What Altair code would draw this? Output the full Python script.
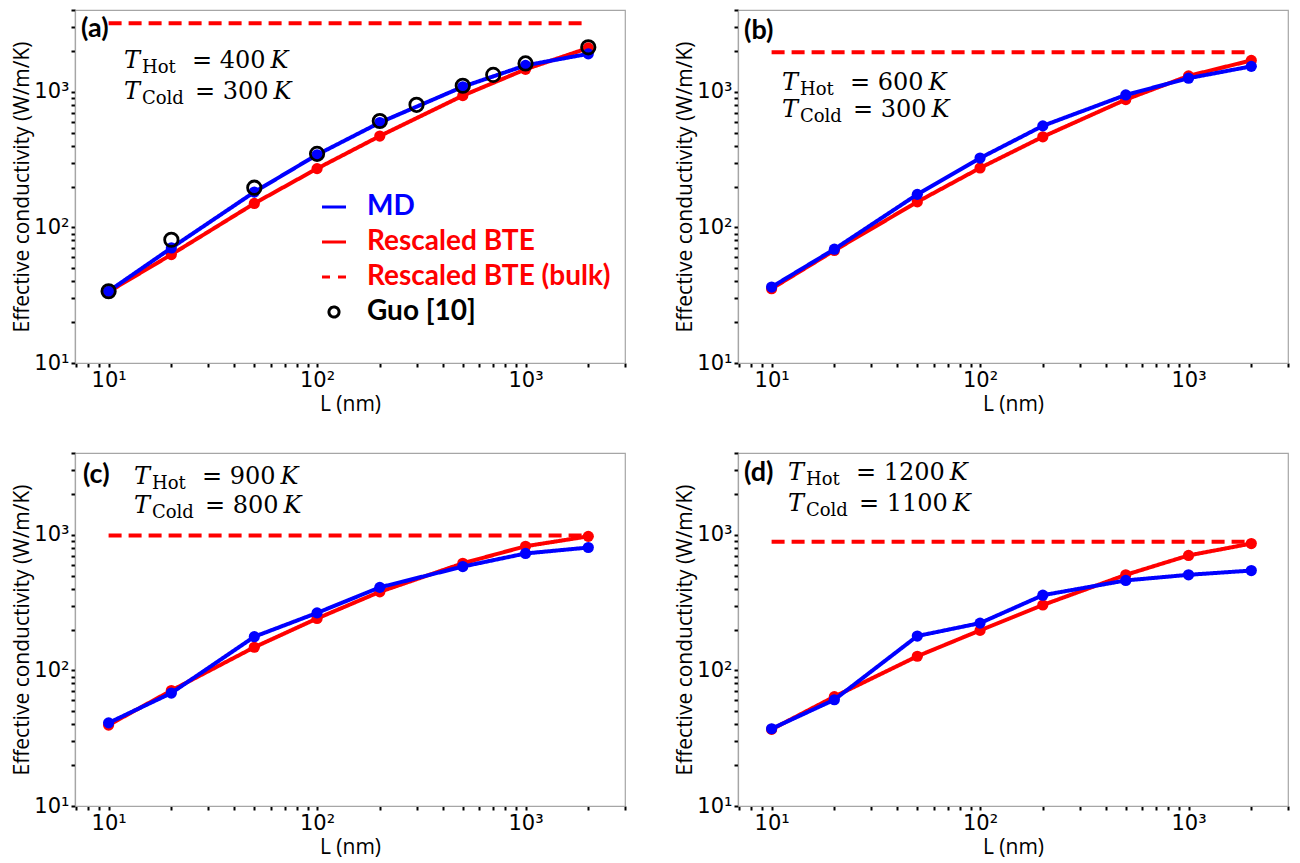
import altair as alt
import pandas as pd

# ---------------- data ----------------
L = [10, 20, 50, 100, 200, 500, 1000, 2000]

md_a = [33.8, 70.5, 182, 343, 592, 1087, 1563, 1900]
bte_a = [33.5, 63, 150, 271, 471, 935, 1462, 2100]
bulk_a = 3200
guo_L = [10, 20, 50, 100, 200, 300, 500, 700, 1000, 2000]
guo_k = [33.8, 81, 196, 348, 608, 800, 1106, 1330, 1616, 2124]

md_b = [36.3, 69, 175, 324, 560, 946, 1257, 1537]
bte_b = [35.3, 67.5, 154, 274, 465, 875, 1307, 1700]
bulk_b = 1950

md_c = [41, 68, 177, 265, 409, 582, 727, 804]
bte_c = [39.5, 71, 148, 241, 379, 615, 822, 972]
bulk_c = 985

md_d = [37.1, 60.7, 179, 223, 358, 460, 506, 544]
bte_d = [36.7, 64, 127, 197, 303, 506, 703, 860]
bulk_d = 885

bulk_span = [10, 2000]

panel_labels = ["(a)", "(b)", "(c)", "(d)"]
t_hot = ["400", "600", "900", "1200"]
t_cold = ["300", "300", "800", "1100"]

series_names = ["MD", "Rescaled BTE", "Rescaled BTE (bulk)", "Guo [10]"]
series_colors = ["#0000ff", "#ff0000", "#ff0000", "#000000"]
series_dash = [[1, 0], [1, 0], [8, 8], [1, 0]]

x_ticks = [7, 8, 9, 10, 20, 30, 40, 50, 60, 70, 80, 90, 100, 200, 300, 400, 500,
           600, 700, 800, 900, 1000, 2000, 3000]
y_ticks = [10, 20, 30, 40, 50, 60, 70, 80, 90, 100, 200, 300, 400, 500, 600, 700,
           800, 900, 1000, 2000, 3000, 4000]

# ---------------- layout / style ----------------
W, H = 550, 353
XDOM = [6.9, 3000]
YDOM = [10, 4000]
BLUE, RED = "#0000ff", "#ff0000"
LW = 4

MAJOR = "datum.value == 10 || datum.value == 100 || datum.value == 1000"
LABEL_EXPR = ("datum.value == 10 ? '10\u00b9' : datum.value == 100 ? '10\u00b2' : "
              "datum.value == 1000 ? '10\u00b3' : ''")
LABEL_SIZE = {"condition": {"test": MAJOR, "value": 21}, "value": 0}

x_axis = alt.Axis(values=x_ticks, labelExpr=LABEL_EXPR, labelFontSize=LABEL_SIZE,
                  title="L (nm)", labelOverlap=False, labelFlush=False,
                  labelPadding=2, titlePadding=3)
y_axis = alt.Axis(values=y_ticks, labelExpr=LABEL_EXPR, labelFontSize=LABEL_SIZE,
                  title="Effective conductivity (W/m/K)", labelOverlap=False,
                  labelFlush=False, labelPadding=2, titlePadding=1)


def X(field="L"):
    return alt.X(f"{field}:Q", scale=alt.Scale(type="log", domain=XDOM, nice=False), axis=x_axis)


def Y(field="k"):
    return alt.Y(f"{field}:Q", scale=alt.Scale(type="log", domain=YDOM, nice=False), axis=y_axis)


legend_def = alt.Legend(
    title=None, orient="none", legendX=245, legendY=183, direction="vertical",
    symbolType=alt.ExprRef(
        "datum.value === 'Guo [10]' ? "
        "'M 0.42 0 A 0.42 0.42 0 1 1 -0.42 0 A 0.42 0.42 0 1 1 0.42 0 Z' : 'stroke'"),
    symbolSize=576, symbolStrokeWidth=3, symbolFillColor="transparent",
    labelColor=alt.ExprRef(
        "datum.value === 'MD' ? '#0000ff' : datum.value === 'Guo [10]' ? '#000000' : '#ff0000'"),
    labelFont="Lato", labelFontSize=28, labelFontWeight="bold", labelOffset=19,
    rowPadding=7, padding=0, labelLimit=400,
)

one_row = pd.DataFrame({"k": [0]})


def txt(text, x, y, size, font, style="normal", weight="normal", color="black"):
    return alt.Chart(one_row).mark_text(
        text=text, align="left", baseline="alphabetic", font=font, fontSize=size,
        fontStyle=style, fontWeight=weight, color=color,
    ).encode(x=alt.value(x), y=alt.value(y))


# annotation anchors (relative to plot area): label pos, T pos, line gap
ann = [
    dict(lab=(6, 27), T=(49, 58), gap=31),
    dict(lab=(6, 29), T=(44, 80), gap=27),
    dict(lab=(8, 30), T=(59, 31), gap=29),
    dict(lab=(6, 28), T=(50, 27), gap=31),
]


def t_line(x0, y0, sub, val, eq_off):
    fs = 24
    eq_x = x0 + eq_off
    k_x = eq_x + (0.838 + 0.318 + 0.636 * len(val)) * fs + 5
    return [
        txt("T", x0, y0, fs, "DejaVu Serif", style="italic"),
        txt(sub, x0 + 18, y0 + 5, 18, "DejaVu Serif"),
        txt("= " + val, eq_x, y0, fs, "DejaVu Serif"),
        txt("K", k_x, y0, fs, "DejaVu Serif", style="italic"),
    ]


def panel(i, md, bte, bulk, with_legend=False, guo=None):
    leg = legend_def if with_legend else None
    color = alt.Color("series:N", scale=alt.Scale(domain=series_names, range=series_colors), legend=leg)
    dash = alt.StrokeDash("series:N", scale=alt.Scale(domain=series_names, range=series_dash), legend=leg)

    df_md = pd.DataFrame({"L": L, "k": md, "series": "MD"})
    df_bte = pd.DataFrame({"L": L, "k": bte, "series": "Rescaled BTE"})
    df_bulk = pd.DataFrame({"L": bulk_span, "k": [bulk, bulk]})

    layers = [
        alt.Chart(df_bulk).mark_line(color=RED, strokeWidth=LW, strokeDash=[13, 7]).encode(x=X(), y=Y()),
        alt.Chart(df_bte).mark_line(strokeWidth=LW).encode(x=X(), y=Y(), color=color, strokeDash=dash),
        alt.Chart(df_bte).mark_circle(color=RED, size=125, opacity=1).encode(x=X(), y=Y()),
        alt.Chart(df_md).mark_line(strokeWidth=LW).encode(x=X(), y=Y(), color=color, strokeDash=dash),
        alt.Chart(df_md).mark_circle(color=BLUE, size=125, opacity=1).encode(x=X(), y=Y()),
    ]
    if guo is not None:
        df_guo = pd.DataFrame({"L": guo[0], "k": guo[1]})
        layers.append(
            alt.Chart(df_guo).mark_point(shape="circle", filled=False, color="black",
                                         strokeWidth=2.8, size=180, opacity=1).encode(x=X(), y=Y())
        )
    a = ann[i]
    layers.append(txt(panel_labels[i], a["lab"][0], a["lab"][1], 27, "Lato", weight="bold"))
    x0, y0 = a["T"]
    layers += t_line(x0, y0, "Hot", t_hot[i], 68)
    layers += t_line(x0, y0 + a["gap"], "Cold", t_cold[i], 71)
    return alt.layer(*layers).properties(width=W, height=H)


pa = panel(0, md_a, bte_a, bulk_a, with_legend=True, guo=(guo_L, guo_k))
pb = panel(1, md_b, bte_b, bulk_b)
pc = panel(2, md_c, bte_c, bulk_c)
pd_ = panel(3, md_d, bte_d, bulk_d)

row1 = alt.hconcat(pa, pb, spacing=47).resolve_scale(color="independent", strokeDash="independent")
row2 = alt.hconcat(pc, pd_, spacing=47).resolve_scale(color="independent", strokeDash="independent")

chart = (
    alt.vconcat(row1, row2, spacing=36)
    .resolve_scale(color="independent", strokeDash="independent")
    .properties(padding={"left": 3, "top": 0, "right": 0, "bottom": 0}, background="white")
    .configure_view(stroke="#a6a6a6", strokeWidth=1.2)
    .configure_axis(
        grid=False, domainColor="#a6a6a6", domainWidth=1.2, tickColor="black", tickWidth=2,
        tickSize=4, labelFont="DejaVu Sans", labelColor="black",
        titleFont="Open Sans", titleFontSize=21, titleFontWeight="normal", titleColor="black",
    )
)

chart.save("out.html", embed_options={"renderer": "svg", "actions": False})
